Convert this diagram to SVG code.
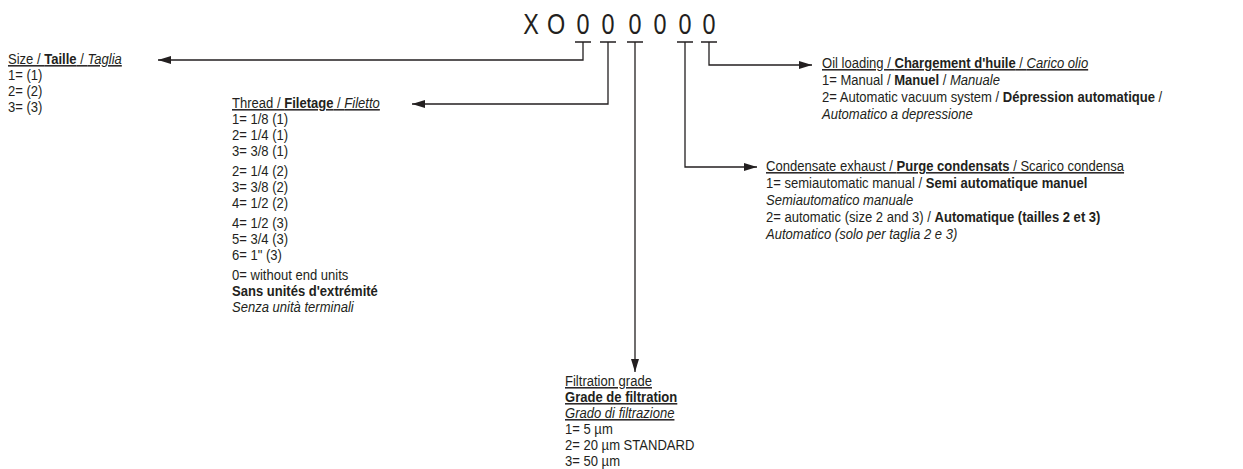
<svg xmlns="http://www.w3.org/2000/svg" width="1243" height="469" viewBox="0 0 1243 469">
<style>
text{font-family:"Liberation Sans",Arial,sans-serif;font-size:15px;fill:#231f20}
.h{text-decoration:underline}
.b{font-weight:bold}
.i{font-style:italic}
.code{font-size:30px;text-anchor:middle}
.ln{fill:none;stroke:#231f20;stroke-width:1.3}
</style>
<defs>
<marker id="ah" viewBox="0 0 13 8" refX="13" refY="4" markerWidth="13" markerHeight="8" markerUnits="userSpaceOnUse" orient="auto">
<path d="M0,0 L13,4 L0,8 Z" fill="#231f20"/>
</marker>
</defs>
<rect width="1243" height="469" fill="#fff"/>
<g id="code">
<text class="code" transform="translate(531,34) scale(0.78,1)">X</text>
<text class="code" transform="translate(556,34) scale(0.78,1)">O</text>
<text class="code" transform="translate(583,34) scale(0.78,1)">0</text>
<text class="code" transform="translate(608,34) scale(0.78,1)">0</text>
<text class="code" transform="translate(635,34) scale(0.78,1)">0</text>
<text class="code" transform="translate(660,34) scale(0.78,1)">0</text>
<text class="code" transform="translate(685,34) scale(0.78,1)">0</text>
<text class="code" transform="translate(709,34) scale(0.78,1)">0</text>
<path class="ln" d="M575,42H591M600,42H616M627,42H643M677,42H693M701,42H717"/>
</g>
<g id="connectors">
<path class="ln" d="M583,42V60H158" marker-end="url(#ah)"/>
<path class="ln" d="M608,42V104H412" marker-end="url(#ah)"/>
<path class="ln" d="M635,42V372" marker-end="url(#ah)"/>
<path class="ln" d="M685,42V167H757" marker-end="url(#ah)"/>
<path class="ln" d="M709,42V65H812" marker-end="url(#ah)"/>
</g>
<g id="size" transform="translate(8,0) scale(0.87,1)">
<text x="0" y="64" class="h">Size / <tspan class="b">Taille</tspan> / <tspan class="i">Taglia</tspan></text>
<text x="0" y="80">1= (1)</text>
<text x="0" y="96">2= (2)</text>
<text x="0" y="112">3= (3)</text>
</g>
<g id="thread" transform="translate(232,0) scale(0.87,1)">
<text x="0" y="108" class="h">Thread / <tspan class="b">Filetage</tspan> / <tspan class="i">Filetto</tspan></text>
<text x="0" y="124">1= 1/8 (1)</text>
<text x="0" y="140">2= 1/4 (1)</text>
<text x="0" y="156">3= 3/8 (1)</text>
<text x="0" y="176">2= 1/4 (2)</text>
<text x="0" y="192">3= 3/8 (2)</text>
<text x="0" y="208">4= 1/2 (2)</text>
<text x="0" y="228">4= 1/2 (3)</text>
<text x="0" y="244">5= 3/4 (3)</text>
<text x="0" y="260">6= 1" (3)</text>
<text x="0" y="280">0= without end units</text>
<text x="0" y="296" class="b">Sans unités d'extrémité</text>
<text x="0" y="312" class="i">Senza unità terminali</text>
</g>
<g id="filtration" transform="translate(565,0) scale(0.87,1)">
<text x="0" y="386" class="h">Filtration grade</text>
<text x="0" y="402" class="h b">Grade de filtration</text>
<text x="0" y="418" class="h i">Grado di filtrazione</text>
<text x="0" y="434">1= 5 µm</text>
<text x="0" y="450">2= 20 µm STANDARD</text>
<text x="0" y="466">3= 50 µm</text>
</g>
<g id="condensate" transform="translate(766,0) scale(0.87,1)">
<text x="0" y="171" class="h">Condensate exhaust / <tspan class="b">Purge condensats</tspan> / Scarico condensa</text>
<text x="0" y="188">1= semiautomatic manual / <tspan class="b">Semi automatique manuel</tspan></text>
<text x="0" y="205" class="i">Semiautomatico manuale</text>
<text x="0" y="222">2= automatic (size 2 and 3) / <tspan class="b">Automatique (tailles 2 et 3)</tspan></text>
<text x="0" y="239" class="i">Automatico (solo per taglia 2 e 3)</text>
</g>
<g id="oil" transform="translate(822,0) scale(0.87,1)">
<text x="0" y="68" class="h">Oil loading / <tspan class="b">Chargement d'huile</tspan> / <tspan class="i">Carico olio</tspan></text>
<text x="0" y="85">1= Manual / <tspan class="b">Manuel</tspan> / <tspan class="i">Manuale</tspan></text>
<text x="0" y="102">2= Automatic vacuum system / <tspan class="b">Dépression automatique</tspan> /</text>
<text x="0" y="119" class="i">Automatico a depressione</text>
</g>
</svg>
